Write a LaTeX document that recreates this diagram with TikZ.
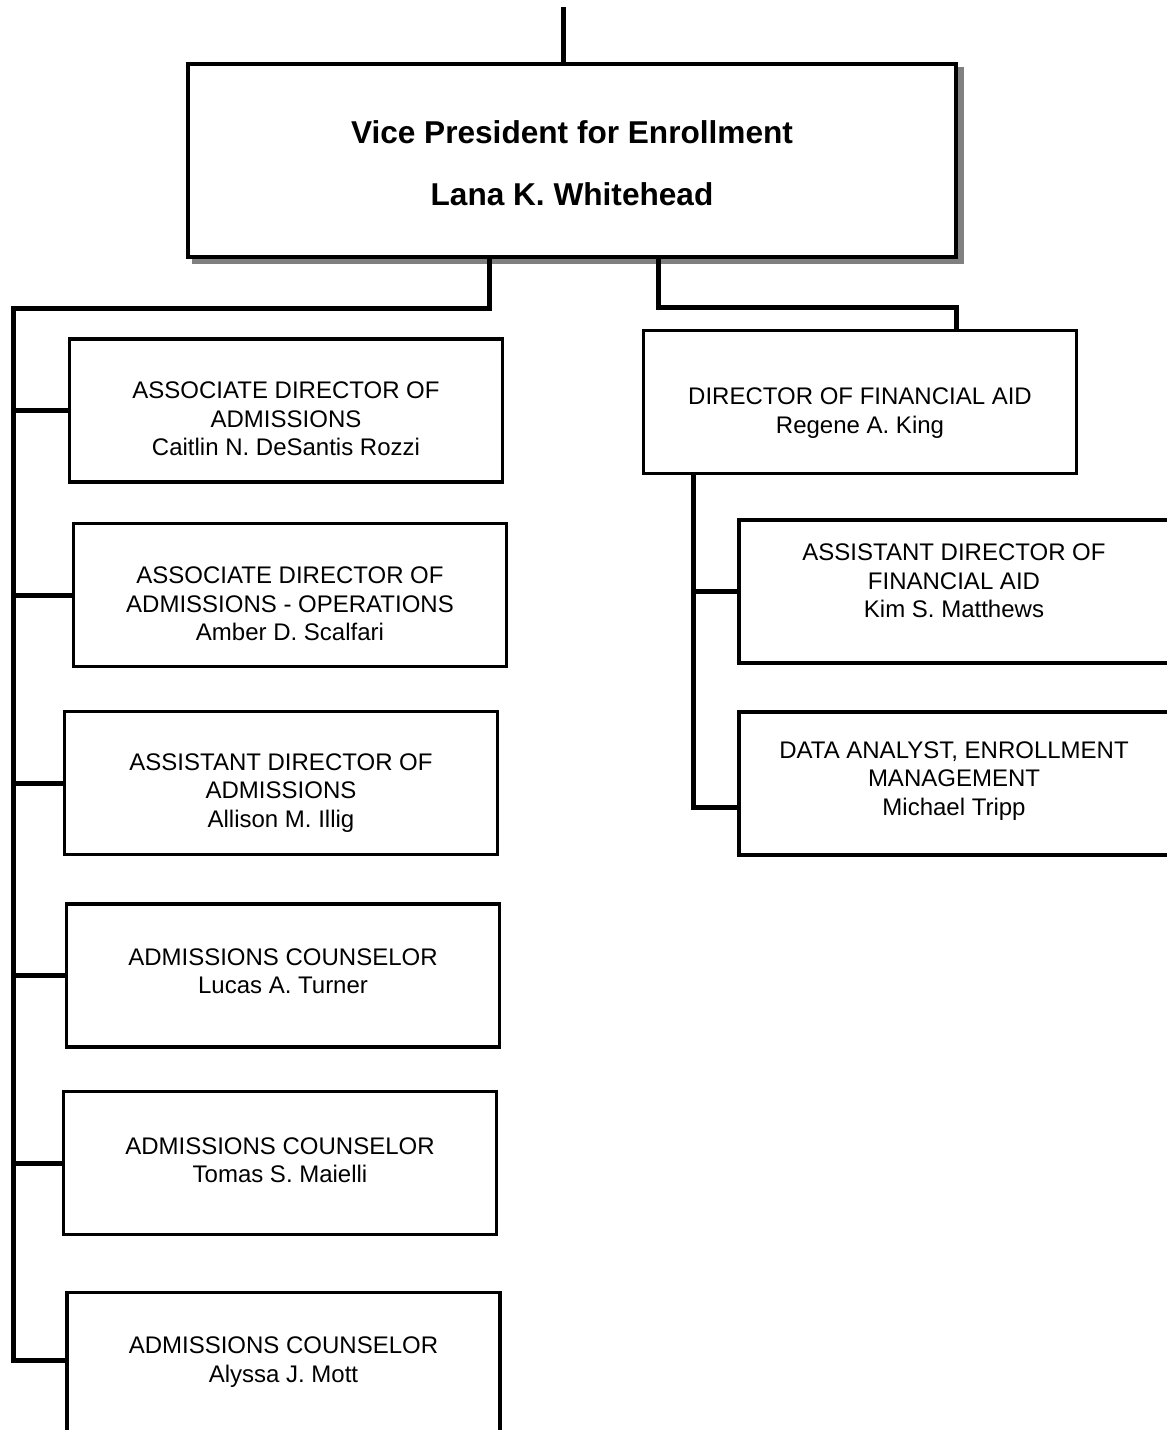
\documentclass[tikz,border=0pt]{standalone}
\usepackage{fontspec}
\setmainfont{Liberation Sans}
\usetikzlibrary{shadows}

\tikzset{
  vpbox/.style={draw, line width=4pt, fill=white, inner sep=0pt,
    minimum width=768pt, minimum height=193pt,
    copy shadow={shadow xshift=6pt, shadow yshift=-5pt, fill=gray, draw=gray}},
  staff/.style={draw, line width=3.5pt, fill=white, inner sep=0pt,
    minimum width=433pt, minimum height=143pt},
  stafftext/.style={align=center, inner sep=0pt,
    font=\fontsize{24}{28.5}\selectfont},
  link/.style={line width=5pt, line join=miter}
}

\begin{document}
\begin{tikzpicture}[x=1pt, y=-1pt]
\useasboundingbox (0,0) rectangle (1167,1430);
\clip (0,0) rectangle (1167,1430);

\begin{scope}
\coordinate (up) at (563,7);
\coordinate (lj) at (489,308);
\coordinate (ltop) at (13,308);
\coordinate (lbot) at (13,1360);
\coordinate (rj) at (658,307);
\coordinate (rk) at (956,307);
\coordinate (rbot) at (693,807);

\node[vpbox] (vp) at (572,160.5) {};
\node[align=center, font=\fontsize{31.6}{62}\selectfont\bfseries] (vpt) at (572,163)
  {Vice President for Enrollment\\Lana K. Whitehead};

% admissions
\node[staff] (ad1) at (286,410.5) {};
\node[staff] (ad2) at (290,595) {};
\node[staff] (asd) at (281,783) {};
\node[staff] (ac1) at (283,975.5) {};
\node[staff] (ac2) at (280,1163) {};
\node[staff] (ac3) at (283.5,1364) {};

\node[stafftext] (ad1t) at (286,419) {ASSOCIATE DIRECTOR OF\\ADMISSIONS\\Caitlin N. DeSantis Rozzi};
\node[stafftext] (ad2t) at (290,604) {ASSOCIATE DIRECTOR OF\\ADMISSIONS - OPERATIONS\\Amber D. Scalfari};
\node[stafftext] (asdt) at (281,793) {ASSISTANT DIRECTOR OF\\ADMISSIONS\\Allison M. Illig};
\node[stafftext] (ac1t) at (283,971) {ADMISSIONS COUNSELOR\\Lucas A. Turner};
\node[stafftext] (ac2t) at (280,1160) {ADMISSIONS COUNSELOR\\Tomas S. Maielli};
\node[stafftext] (ac3t) at (283.5,1362) {ADMISSIONS COUNSELOR\\Alyssa J. Mott};

% financial aid
\node[staff] (dfa) at (860,402) {};
\node[staff, minimum width=431pt] (afa) at (954.5,591.5) {};
\node[staff, minimum width=431pt] (da) at (954.5,783.5) {};

\node[stafftext] (dfat) at (860,413) {DIRECTOR OF FINANCIAL AID\\Regene A. King};
\node[stafftext] (afat) at (954,581) {ASSISTANT DIRECTOR OF\\FINANCIAL AID\\Kim S. Matthews};
\node[stafftext] (dat) at (954,781) {DATA ANALYST, ENROLLMENT\\MANAGEMENT\\Michael Tripp};

\draw[link] (up) -- (vp.north -| up);
\draw[link] (vp.south -| lj) -- (lj) -- (ltop) -- (lbot) -- (lbot -| ac3.west);
\foreach \b in {ad1,ad2,asd,ac1,ac2}
  \draw[link] (ltop |- \b.west) -- (\b.west);

\draw[link] (vp.south -| rj) -- (rj) -- (rk) -- (rk |- dfa.north);
\draw[link] (dfa.south -| rbot) -- (rbot) -- (rbot -| da.west);
\draw[link] (rbot |- afa.west) -- (afa.west);
\end{scope}

\end{tikzpicture}
\end{document}
